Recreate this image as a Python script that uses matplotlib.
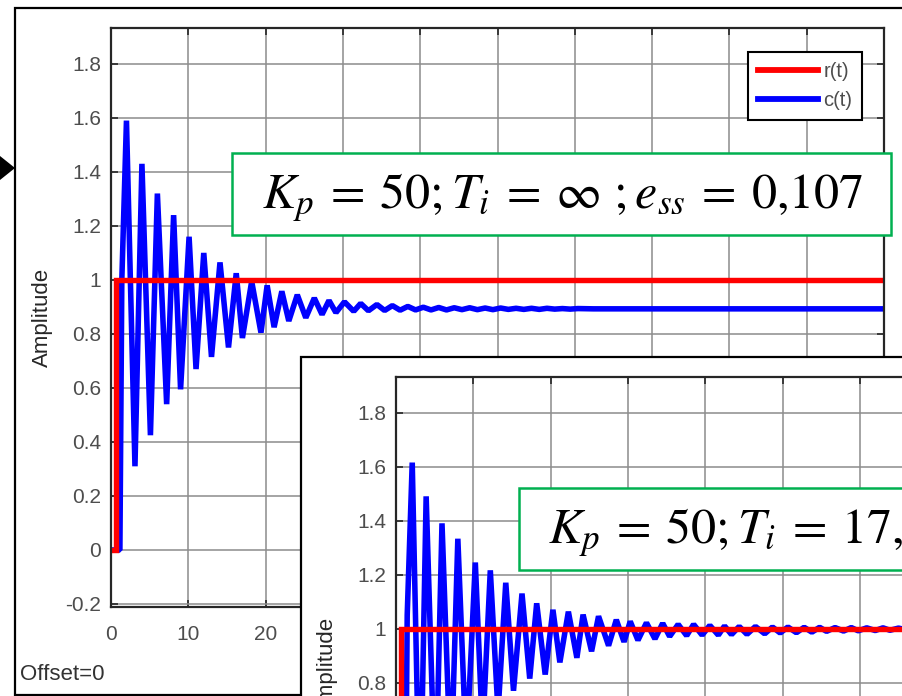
import matplotlib
matplotlib.use('Agg')
import matplotlib.pyplot as plt
from matplotlib.patches import Rectangle, Polygon
from matplotlib.lines import Line2D

# ---------------- data ----------------
x_ticks = [0, 10, 20, 30, 40, 50, 60, 70, 80, 90, 100]
x_tick_labels = ['0', '10', '20', '30', '40', '50', '60', '70', '80', '90', '100']
y_ticks = [-0.2, 0, 0.2, 0.4, 0.6, 0.8, 1.0, 1.2, 1.4, 1.6, 1.8]
y_tick_labels = ['-0.2', '0', '0.2', '0.4', '0.6', '0.8', '1', '1.2', '1.4', '1.6', '1.8']

series_labels = ['r(t)', 'c(t)']
y_label = 'Amplitude'
offset_text = 'Offset=0'

# reference step r(t)
r_t = [0, 0.7, 0.7, 100]
r_v = [0, 0, 1, 1]

# response c(t), panel 1 (P control) - extremes
c1_t = [0, 1.15, 1.4, 2.0, 3.1, 4.0, 5.1, 6.0, 7.2, 8.1, 9.0, 10.1, 11.0, 12.0,
        13.0, 14.1, 15.2, 16.2, 17.0, 18.2, 19.4, 20.2, 21.1, 22.1, 23.0, 24.1,
        25.2, 26.3, 27.3, 28.2, 29.1, 30.2, 31.4, 32.3, 33.3, 34.4, 35.4, 36.4,
        37.4, 38.4, 39.4, 40.4, 41.4, 42.4, 43.4, 44.4, 45.4, 46.4, 47.4, 48.4,
        49.4, 50.4, 51.4, 52.4, 53.4, 54.4, 55.4, 56.4, 57.4, 58.4, 59.4, 60.4,
        62.4, 64.4, 100]
c1_v = [0, 0, 1.0, 1.59, 0.31, 1.43, 0.425, 1.32, 0.54, 1.24, 0.595, 1.16, 0.67, 1.10,
        0.715, 1.065, 0.75, 1.025, 0.785, 0.995, 0.805, 0.98, 0.825, 0.958, 0.848, 0.945,
        0.86, 0.933, 0.872, 0.924, 0.879, 0.919, 0.884, 0.913, 0.886, 0.909, 0.887, 0.905,
        0.888, 0.902, 0.889, 0.899, 0.889, 0.898, 0.889, 0.897, 0.890, 0.897, 0.890, 0.896,
        0.890, 0.896, 0.891, 0.895, 0.891, 0.895, 0.891, 0.895, 0.892, 0.894, 0.892, 0.894,
        0.893, 0.893, 0.893]

# response c(t), panel 2 (PI control)
c2_t = [0, 1.15, 1.45, 2.1, 3.1, 3.9, 5.1, 5.95, 7.1, 8.0, 9.1, 10.26, 11.2, 12.2,
        13.2, 14.2, 15.2, 16.3, 17.3, 18.2, 19.3, 20.3, 21.2, 22.3, 23.4, 24.2,
        25.3, 26.2, 27.5, 28.5, 29.5, 30.3, 31.3, 32.4, 33.5, 34.5, 35.4, 36.5,
        37.6, 38.5, 39.6, 40.6, 41.7, 42.5, 43.4, 44.4, 45.4, 46.5, 47.7, 48.7,
        49.7, 50.7, 51.8, 52.8, 53.8, 54.8, 55.7, 56.8, 57.9, 58.9, 59.8, 60.9,
        62.0, 63.0, 63.9, 65.0, 66.0, 68.0, 100]
c2_v = [0, 0, 1.05, 1.615, 0.26, 1.49, 0.36, 1.39, 0.46, 1.333, 0.54, 1.245, 0.61, 1.216,
        0.69, 1.17, 0.77, 1.13, 0.815, 1.094, 0.83, 1.07, 0.875, 1.063, 0.892, 1.052,
        0.916, 1.046, 0.937, 1.033, 0.951, 1.027, 0.957, 1.022, 0.962, 1.02, 0.971, 1.016,
        0.974, 1.016, 0.976, 1.012, 0.976, 1.010, 0.978, 1.008, 0.979, 1.008, 0.981, 1.006,
        0.984, 1.006, 0.985, 1.005, 0.987, 1.005, 0.990, 1.004, 0.991, 1.004, 0.992, 1.003,
        0.993, 1.003, 0.994, 1.002, 0.996, 1.0, 1.0]

box1_text = r'$K_p\:=\:50;T_i\:=\:\infty\ ;e_{ss}\:=\:0{,}107$'
box2_text = r'$K_p\:=\:50;T_i\:=\:17{,}5\ ;e_{ss}\:=\:0$'

# ---------------- style ----------------
plt.rcParams['font.family'] = ['Liberation Sans', 'DejaVu Sans']
plt.rcParams['mathtext.fontset'] = 'stix'

W, H = 902, 696
fig = plt.figure(figsize=(W / 100, H / 100), dpi=100)
fig.patch.set_facecolor('white')

RED = '#ff0000'
BLUE = '#0000ff'
GREEN = '#00b050'
TICK_C = '#4d4d4d'
GRID_C = '#8c8c8c'


def rect_px(x0, y0, x1, y1):
    return [x0 / W, 1 - y1 / H, (x1 - x0) / W, (y1 - y0) / H]


def add_box(x0, y0, x1, y1, ec, lw, z):
    r = Rectangle((x0 / W, 1 - y1 / H), (x1 - x0) / W, (y1 - y0) / H,
                  transform=fig.transFigure, fc='white', ec=ec, lw=lw, zorder=z)
    fig.add_artist(r)


def style_axes(ax, xlabels=True):
    ax.set_facecolor('white')
    ax.set_xlim(0, 100)
    ax.set_ylim(-0.21, 1.933)
    ax.set_xticks(x_ticks, x_tick_labels)
    ax.set_yticks(y_ticks, y_tick_labels)
    ax.grid(True, color=GRID_C, lw=1.1)
    ax.set_axisbelow(True)
    ax.tick_params(direction='in', length=5, width=1.2, color='#262626',
                   top=True, right=True, labelsize=15, labelcolor=TICK_C)
    ax.tick_params(axis='x', pad=13, labelbottom=xlabels)
    ax.tick_params(axis='y', pad=7)
    for s in ax.spines.values():
        s.set_linewidth(1.6)
        s.set_color('#262626')
    ax.set_ylabel(y_label, fontsize=16, color='#262626')
    ax.yaxis.set_label_coords((53 - 111) / 773, 0.5)


def plot_lines(ax, ct, cv):
    ax.plot(ct, cv, color=BLUE, lw=4.0, solid_joinstyle='bevel')
    ax.plot(r_t, r_v, color=RED, lw=3.9, solid_joinstyle='miter')


# panel 1 outer frame and arrow
add_box(15, 8, 1200, 695, 'black', 1.6, 0.1)
fig.add_artist(Polygon([(0, 1 - 156 / H), (15 / W, 1 - 168 / H), (0, 1 - 180 / H)],
                       closed=True, transform=fig.transFigure, fc='black', ec='none',
                       zorder=0.2))

ax1 = fig.add_axes(rect_px(111, 28, 884, 606.7), zorder=1)
style_axes(ax1)
plot_lines(ax1, c1_t, c1_v)
handles = [Line2D([], [], color=RED, lw=4.2), Line2D([], [], color=BLUE, lw=4.2)]
leg = ax1.legend(handles, series_labels, loc='upper right',
                 bbox_to_anchor=(862.3 / W, 1 - 51.7 / H), bbox_transform=fig.transFigure,
                 frameon=True, fancybox=False, edgecolor='black', framealpha=1,
                 borderaxespad=0, handlelength=3.0, fontsize=14.5, labelcolor=TICK_C,
                 borderpad=0.5, labelspacing=0.5, handletextpad=0.25)
leg.get_frame().set_linewidth(1.5)

fig.text(20 / W, 1 - 675 / H, offset_text, ha='left', va='center', fontsize=16,
         color='#333333', zorder=1.5)

# text box 1
add_box(232, 153, 891, 235, GREEN, 1.8, 1.6)
fig.text(262 / W, 1 - 208 / H, box1_text, ha='left', va='baseline', fontsize=36,
         color='black', zorder=1.7)

# panel 2 outer frame
add_box(301, 357, 1400, 1400, 'black', 1.6, 2)
ax2 = fig.add_axes(rect_px(396, 376.7, 1169, 955.4), zorder=3)
style_axes(ax2, xlabels=False)
plot_lines(ax2, c2_t, c2_v)

# text box 2
add_box(519, 488, 1400, 570, GREEN, 1.8, 3.5)
fig.text(548 / W, 1 - 543 / H, box2_text, ha='left', va='baseline', fontsize=36,
         color='black', zorder=3.6)

fig.savefig('out.png', dpi=100, facecolor='white')
